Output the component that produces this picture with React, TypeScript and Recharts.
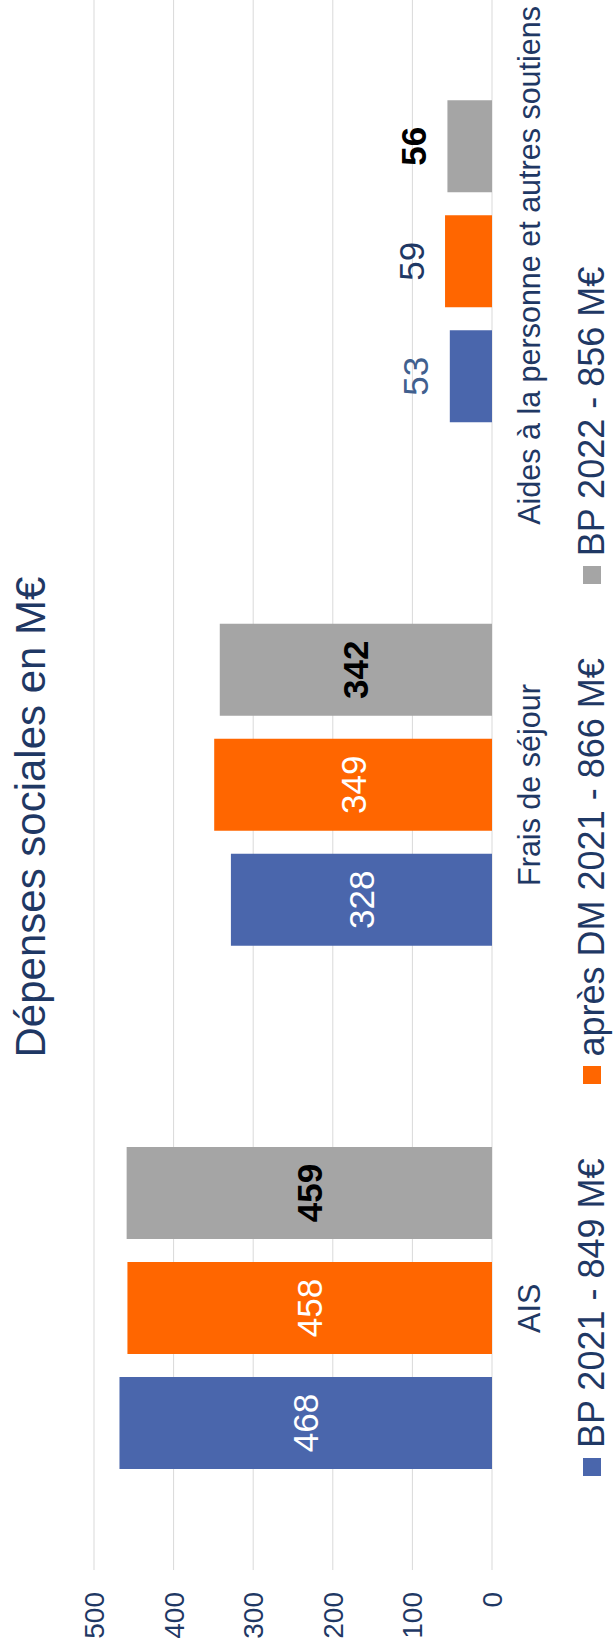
import React from "react";
import { BarChart, Bar, XAxis, YAxis, CartesianGrid, LabelList } from "recharts";

// chart is laid out landscape, then turned a quarter turn so it reads bottom-to-top
const CHART_W = 1652;
const CHART_H = 613;
const FONT = "'Liberation Sans', Arial, sans-serif";
const NAVY = "#1f3864";

const categories = ["AIS", "Frais de séjour", "Aides à la personne et autres soutiens"];
const bp2021 = [468, 328, 53];
const apresDm2021 = [458, 349, 59];
const bp2022 = [459, 342, 56];
const valueTicks = [0, 100, 200, 300, 400, 500];
const seriesNames = ["BP 2021 - 849 M€", "après DM 2021 - 866 M€", "BP 2022 - 856 M€"];

const data = categories.map((name, i) => ({
  name,
  bp2021: bp2021[i],
  apres: apresDm2021[i],
  bp2022: bp2022[i],
}));

const series = [
  { key: "bp2021", name: seriesNames[0], color: "#4a66ac", inside: "#ffffff", outside: "#41608e", weight: 400 },
  { key: "apres", name: seriesNames[1], color: "#ff6600", inside: "#ffffff", outside: NAVY, weight: 400 },
  { key: "bp2022", name: seriesNames[2], color: "#a5a5a5", inside: "#000000", outside: "#000000", weight: 700 },
];

const LABEL_SIZE = 35;
const CAT_SIZE = 30.5;

// big bars carry their value in the middle, short ones just above
const makeLabel = (s: (typeof series)[number]) => (props: any) => {
  const vb = props.viewBox || {};
  const x = props.x ?? vb.x;
  const y = props.y ?? vb.y;
  const w = props.width ?? vb.width;
  const h = props.height ?? vb.height;
  const v = Number(props.value);
  const inside = v >= 100;
  const cy = inside ? y + h / 2 : y - 34;
  return (
    <text
      x={x + w / 2}
      y={cy + LABEL_SIZE * 0.36}
      textAnchor="middle"
      fontSize={LABEL_SIZE}
      fontFamily={FONT}
      fontWeight={s.weight}
      fill={inside ? s.inside : s.outside}
    >
      {v}
    </text>
  );
};

// the long last category is pulled back inside the chart edge
const CategoryTick = (props: any) => {
  const { x, y, payload, index } = props;
  const last = index === categories.length - 1;
  return (
    <text
      x={last ? CHART_W - 6 : x}
      y={y + CAT_SIZE * 0.72}
      textAnchor={last ? "end" : "middle"}
      fontSize={CAT_SIZE}
      fontFamily={FONT}
      fill={NAVY}
    >
      {payload.value}
    </text>
  );
};

const Legend = () => (
  <div
    style={{
      position: "absolute",
      left: 176,
      top: 574,
      display: "flex",
      alignItems: "center",
      fontFamily: FONT,
      fontSize: 36,
      lineHeight: "36px",
      color: NAVY,
      whiteSpace: "nowrap",
    }}
  >
    {series.map((s) => (
      <div key={s.key} style={{ display: "flex", alignItems: "center", marginRight: 74 }}>
        <span style={{ width: 18, height: 18, background: s.color, marginRight: 10 }} />
        <span>{s.name}</span>
      </div>
    ))}
  </div>
);

export default function App() {
  return (
    <div
      style={{
        position: "absolute",
        left: 0,
        top: 0,
        width: CHART_H,
        height: CHART_W,
        overflow: "hidden",
        background: "#fff",
      }}
    >
      <div
        style={{
          position: "absolute",
          left: 0,
          top: 0,
          width: CHART_W,
          height: CHART_H,
          transformOrigin: "0 0",
          transform: `translate(0px, ${CHART_W}px) rotate(-90deg)`,
          background: "#fff",
        }}
      >
        <div
          style={{
            position: "absolute",
            left: 435,
            top: 9.5,
            width: 800,
            textAlign: "center",
            fontFamily: FONT,
            fontSize: 42,
            lineHeight: "42px",
            color: NAVY,
          }}
        >
          Dépenses sociales en M€
        </div>
        <BarChart
          width={CHART_W}
          height={CHART_H}
          data={data}
          margin={{ top: 94, right: 0, left: 0, bottom: 61 }}
          barSize={92}
          barGap={23}
        >
          <CartesianGrid vertical={false} stroke="#d9d9d9" />
          <XAxis
            dataKey="name"
            axisLine={false}
            tickLine={false}
            interval={0}
            height={60}
            tickMargin={20}
            tick={<CategoryTick />}
          />
          <YAxis
            width={82}
            domain={[0, 500]}
            ticks={valueTicks}
            axisLine={false}
            tickLine={false}
            tickMargin={16}
            tick={{ fill: NAVY, fontSize: 28, fontFamily: FONT }}
          />
          {series.map((s) => (
            <Bar key={s.key} dataKey={s.key} name={s.name} fill={s.color} isAnimationActive={false}>
              <LabelList dataKey={s.key} content={makeLabel(s)} />
            </Bar>
          ))}
        </BarChart>
        <Legend />
      </div>
    </div>
  );
}
